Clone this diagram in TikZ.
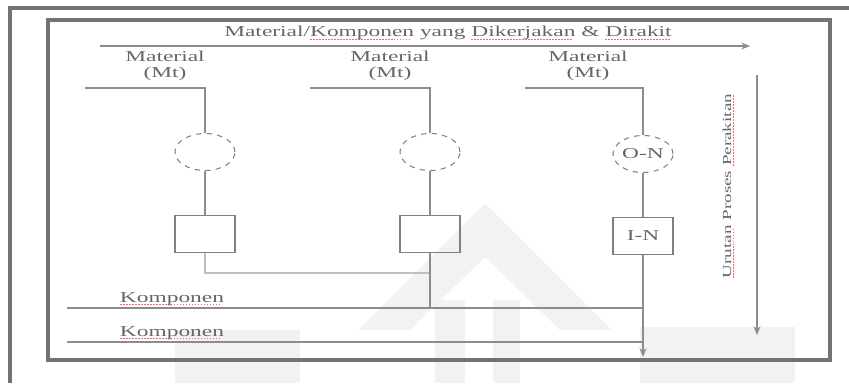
\documentclass[tikz,border=0pt]{standalone}
\usepackage{fontspec}
\setmainfont{Liberation Serif}[FakeStretch=1.55]
\usetikzlibrary{positioning, arrows.meta, shapes.geometric}

% red spell-check underline
\newcommand\sq[1]{\leavevmode\setbox0\hbox{#1}%
   \rlap{\color{red!60}\lower0.4ex\hbox to\wd0{\leaders\hbox{\rule{1pt}{0.5pt}\hspace{0.7pt}}\hfill}}\box0\relax}

\begin{document}
\begin{tikzpicture}[x=0.02cm, y=-0.02cm, node distance=1.64cm, on grid,
   every node/.style={text=black!60, font=\fontsize{8.6}{9.5}\selectfont},
   line/.style={draw=black!45, line width=0.7pt},
   frame/.style={draw=black!55, line width=1.8pt},
   supply/.style={ellipse, draw=black!50, dashed, line width=0.6pt,
      minimum width=1.2cm, minimum height=0.74cm, inner sep=0pt},
   job/.style={rectangle, draw=black!50, line width=0.6pt,
      minimum width=1.2cm, minimum height=0.74cm, inner sep=0pt},
   wm/.style={fill=black!5, draw=none},
   flow/.style={line, -{Stealth[length=5pt,width=4pt]}}]

   \useasboundingbox (0,0) rectangle (849,383);

   % watermark
   \fill[wm] (485,203) -- (612,330) -- (560,330) -- (485,257) -- (410,330) -- (358,330) -- cycle;
   \fill[wm] (435,300) rectangle (465,383);
   \fill[wm] (493,300) rectangle (520,383);
   \fill[wm] (640,327) rectangle (795,383);
   \fill[wm] (175,330) rectangle (300,383);

   % frames
   \draw[frame] (10,383) -- (10,8) -- (849,8);
   \draw[frame] (48,20) rectangle (830,360);

   % title and flow arrow
   \node (title) at (448,33) {Material/\sq{Komponen} yang \sq{Dikerjakan} \& \sq{Dirakit}};
   \coordinate (fs) at (100,46);
   \coordinate (fe) at (750,46);
   \draw[flow] (fs) -- (fe);

   % material inputs
   \node[align=center] (mt1) at (165,66) {Material\\(Mt)};
   \node[align=center] (mt2) at (390,66) {Material\\(Mt)};
   \node[align=center] (mt3) at (588,66) {Material\\(Mt)};

   \node[supply] (o1) at (205,152) {};
   \node[supply] (o2) at (430,152) {};
   \node[supply] (o3) at (643,154) {O-N};

   \node[job] (i1) [below=of o1] {};
   \node[job] (i2) [below=of o2] {};
   \node[job] (i3) [below=of o3] {I-N};

   \coordinate (m1) at (85,88);
   \coordinate (m2) at (310,88);
   \coordinate (m3) at (525,88);

   \draw[line] (m1) -| (o1.north);
   \draw[line] (m2) -| (o2.north);
   \draw[line] (m3) -| (o3.north);
   \draw[line] (o1) -- (i1);
   \draw[line] (o2) -- (i2);
   \draw[line] (o3) -- (i3);

   % komponen lines
   \node (k1) at (172,299) {\sq{Komponen}};
   \node (k2) at (172,333) {\sq{Komponen}};
   \coordinate (ka) at (67,308);
   \coordinate (kb) at (643,308);
   \coordinate (kc) at (67,342);
   \coordinate (kd) at (643,342);
   \coordinate (end) at (643,357);
   \draw[line] (ka) -- (kb);
   \draw[line] (kc) -- (kd);

   \draw[line, draw=black!25] (i1.south) |- (430,273);
   \draw[line] (i2.south) -- (i2.south |- ka);
   \draw[flow] (i3.south) -- (end);

   % production order
   \coordinate (ps) at (757,75);
   \coordinate (pe) at (757,335);
   \draw[flow] (ps) -- (pe);
   \node[rotate=90, font=\fontsize{7}{8}\selectfont] (order) at (728,186) {\sq{Urutan} Proses \sq{Perakitan}};
\end{tikzpicture}
\end{document}
